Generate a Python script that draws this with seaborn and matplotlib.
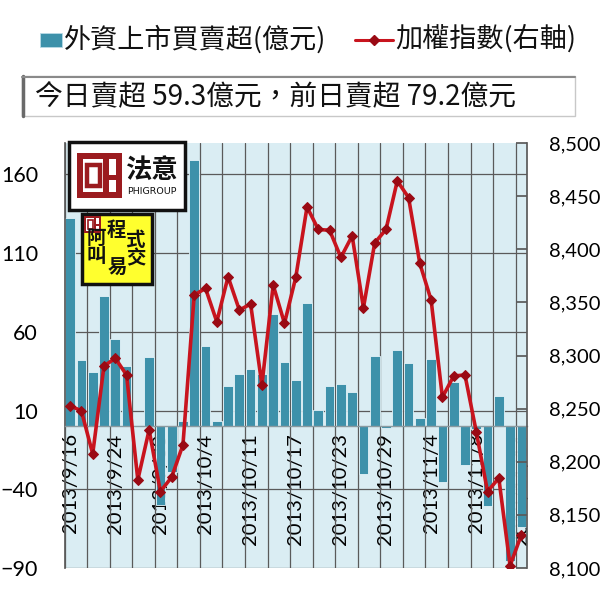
import numpy as np
import pandas as pd
import matplotlib
matplotlib.use("Agg")
import matplotlib.pyplot as plt
import seaborn as sns
from matplotlib.patches import Rectangle
from matplotlib.lines import Line2D
from matplotlib.ticker import FuncFormatter, FixedLocator, FixedFormatter

# ---------------- data ----------------
dates = ['2013/9/16', '2013/9/17', '2013/9/18', '2013/9/23', '2013/9/24', '2013/9/25',
         '2013/9/26', '2013/9/27', '2013/9/30', '2013/10/1', '2013/10/2', '2013/10/3',
         '2013/10/4', '2013/10/7', '2013/10/8', '2013/10/9', '2013/10/11', '2013/10/14',
         '2013/10/15', '2013/10/16', '2013/10/17', '2013/10/18', '2013/10/21', '2013/10/22',
         '2013/10/23', '2013/10/24', '2013/10/25', '2013/10/28', '2013/10/29', '2013/10/30',
         '2013/10/31', '2013/11/1', '2013/11/4', '2013/11/5', '2013/11/6', '2013/11/7',
         '2013/11/8', '2013/11/11', '2013/11/12', '2013/11/13', '2013/11/14']

foreign_net = [132.4, 41.9, 34.2, 82.6, 55.4, 38.1, 1.0, 44.0, -50.0, -29.0, 3.5,
               169.5, 50.8, 3.1, 25.8, 33.2, 36.4, 33.2, 71.6, 40.6, 29.6,
               78.4, 10.1, 25.8, 27.0, 21.9, -30.4, 44.4, -1.0, 48.7, 40.2,
               5.2, 42.7, -35.1, 27.9, -24.5, -1.5, -50.5, 19.0, -85.5, -64.0]

taiex = [8252.8, 8247.8, 8207.4, 8290.1, 8297.4, 8281.7, 8183.0, 8230.0, 8172.0, 8185.5,
         8215.9, 8356.9, 8363.2, 8331.8, 8374.1, 8342.8, 8348.4, 8272.3, 8366.3, 8330.3,
         8373.5, 8439.8, 8418.6, 8417.9, 8392.3, 8412.6, 8344.9, 8406.0, 8418.6, 8464.3,
         8448.7, 8386.6, 8352.2, 8260.7, 8280.7, 8281.7, 8228.4, 8172.0, 8184.6, 8102.2,
         8131.3]

left_ticks = [-90, -40, 10, 60, 110, 160]
right_ticks = [8100, 8150, 8200, 8250, 8300, 8350, 8400, 8450, 8500]
label_every = 4

legend_bar = '外資上市買賣超(億元)'
legend_line = '加權指數(右軸)'
headline = '今日賣超 59.3億元，前日賣超 79.2億元'

# ---------------- style ----------------
BAR = '#3d91aa'
BG = '#daedf3'
RED = '#c8141e'
MK = '#9a0a14'
GRID = '#5a5a5a'
CJK = ['Noto Sans CJK TC', 'DejaVu Sans']
NUM = ['Lato', 'DejaVu Sans']

sns.set_theme(style='white')
plt.rcParams['font.family'] = NUM

W, H = 600, 596
fig = plt.figure(figsize=(W / 100, H / 100), dpi=100)
fig.patch.set_facecolor('white')

L, R, T, B = 64.5, 527, 143, 568
ax = fig.add_axes([L / W, 1 - B / H, (R - L) / W, (B - T) / H])
ax.set_facecolor(BG)

df = pd.DataFrame({'date': dates, 'net': foreign_net})
sns.barplot(data=df, x='date', y='net', color=BAR, saturation=1, width=0.86,
            edgecolor='#e4f3f8', linewidth=0.6, ax=ax)

ax2 = ax.twinx()
sns.lineplot(x=np.arange(len(dates)), y=taiex, ax=ax2, color=RED, linewidth=2.6,
             marker='D', markersize=5.5, markerfacecolor=MK, markeredgecolor=MK)

n = len(dates)
ax.set_xlim(-0.5, n - 0.5)
ax.set_ylim(-90, 180)
ax.set_yticks(left_ticks)
ax.xaxis.set_major_locator(FixedLocator(list(range(0, n, label_every))))
ax.xaxis.set_major_formatter(FixedFormatter(dates[::label_every]))
ax.xaxis.set_minor_locator(FixedLocator(list(np.arange(-0.5, n, 2))))
ax.set_axisbelow(True)
ax.grid(axis='y', which='major', color=GRID, linewidth=0.9)
ax.grid(axis='x', which='minor', color=GRID, linewidth=0.9)
ax.grid(axis='x', which='major', visible=False)
ax.set_xlabel('')
ax.set_ylabel('')
ax.spines['bottom'].set_position(('data', 0))
ax.spines['bottom'].set_color('#8a9aa0')
ax.spines['bottom'].set_linewidth(1.0)
ax.spines['top'].set_visible(False)
ax.spines['right'].set_visible(False)
ax.spines['left'].set_color(GRID)
ax.tick_params(axis='x', which='both', length=0, pad=5, labelcolor='black',
               labelrotation=90, labelsize=14.5)
ax.tick_params(axis='y', length=0, pad=19, labelsize=15.5, labelcolor='black')

ax2.set_ylim(8100, 8500)
ax2.set_yticks(right_ticks)
ax2.yaxis.set_major_formatter(FuncFormatter(lambda v, p: f'{int(v):,}'))
ax2.set_ylabel('')
ax2.grid(False)
for s in ['top', 'left', 'bottom']:
    ax2.spines[s].set_visible(False)
ax2.spines['right'].set_color(GRID)
ax2.tick_params(axis='y', direction='in', length=8, color=GRID, pad=16,
                labelsize=14.5, labelcolor='black')
ax.set_xlim(-0.5, n - 0.5)

# ---------------- overlay (legend, headline, logo) ----------------
ov = fig.add_axes([0, 0, 1, 1], zorder=10)
ov.set_xlim(0, W)
ov.set_ylim(H, 0)
ov.axis('off')
ov.patch.set_alpha(0)

# legend
ov.add_patch(Rectangle((40, 33), 22, 14, facecolor=BAR, edgecolor='#b9dbe6', lw=0.6))
ov.text(64, 39, legend_bar, fontsize=19.5, family=CJK, va='center', ha='left', color='#111')
ov.add_line(Line2D([355, 393], [40, 40], color=RED, lw=2.2))
ov.add_line(Line2D([374], [40], marker='D', markersize=5, color=MK, lw=0))
ov.text(395, 39, legend_line, fontsize=19.5, family=CJK, va='center', ha='left', color='#111')

# headline box
ov.add_patch(Rectangle((22, 76), 553, 40, facecolor='white', edgecolor='#c8c8c8', lw=1))
ov.add_line(Line2D([23, 23], [76, 116], color='#6a6a6a', lw=2.5))
ov.add_line(Line2D([22, 575], [76.5, 76.5], color='#8a8a8a', lw=1.5))
ov.text(35, 97, headline, fontsize=20, family=CJK, va='center', ha='left', color='#111')


def draw_logo(x, y, s, c='#9b1b1f'):
    ov.add_patch(Rectangle((x, y), s, s, facecolor=c, edgecolor='none'))
    ov.add_patch(Rectangle((x + 0.13 * s, y + 0.13 * s), 0.74 * s, 0.74 * s,
                           facecolor='white', edgecolor='none'))
    ov.add_patch(Rectangle((x + 0.22 * s, y + 0.26 * s), 0.28 * s, 0.48 * s,
                           facecolor='none', edgecolor=c, lw=max(1.0, s / 14)))
    ov.add_patch(Rectangle((x + 0.58 * s, y + 0.13 * s), 0.12 * s, 0.74 * s,
                           facecolor=c, edgecolor='none'))
    ov.add_patch(Rectangle((x + 0.70 * s, y + 0.48 * s), 0.17 * s, 0.12 * s,
                           facecolor=c, edgecolor='none'))


# logo box 1
ov.add_patch(Rectangle((69, 142), 116, 68, facecolor='white', edgecolor='#111', lw=2.5))
draw_logo(77, 153, 45)
ov.text(151, 170, '法意', fontsize=19, family=CJK, fontweight='bold', ha='center',
        va='center', color='#111')
ov.text(152, 191, 'PHIGROUP', fontsize=6.8, family=['DejaVu Sans'], ha='center',
        va='center', color='#111')

# logo box 2
ov.add_patch(Rectangle((82, 214), 70, 70, facecolor='#ffff2e', edgecolor='#111', lw=2.5))
draw_logo(84, 216, 17)
for ch, (cx, cy) in zip(['阿', '叫', '程', '易', '式', '交'],
                        [(96, 238), (96, 257), (116, 231), (117, 268), (136, 240), (136, 259)]):
    ov.text(cx, cy, ch, fontsize=14, family=CJK, fontweight='bold', ha='center',
            va='center', color='#111')

fig.savefig('out.png', dpi=100, facecolor='white')
